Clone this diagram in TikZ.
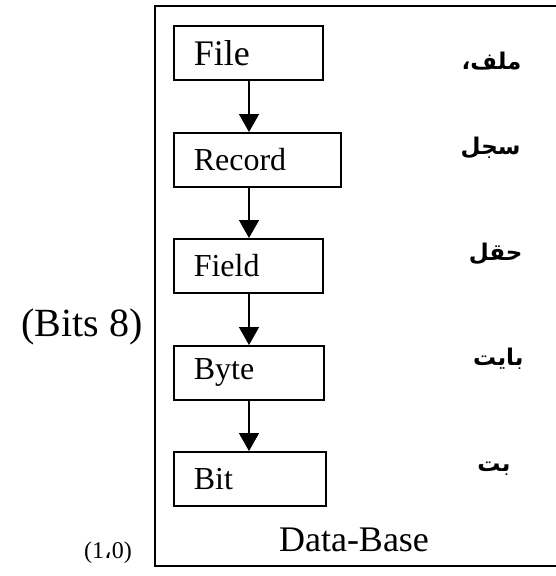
\documentclass[tikz,border=0pt]{standalone}
\usepackage{fontspec}
\setmainfont{Liberation Serif}
\newfontfamily\arabicfont[Script=Arabic]{DejaVu Sans}
\TeXXeTstate=1
\usetikzlibrary{arrows.meta}

\begin{document}
\begin{tikzpicture}[x=1pt,y=-1pt,>={Triangle[width=20pt,length=18pt]},
  box/.style={draw,line width=1.6pt,anchor=north west,inner xsep=20pt,inner ysep=0pt,align=left,minimum height=54pt,font=\fontsize{32}{36}\selectfont},
  ar/.style={anchor=east,font=\arabicfont\bfseries\fontsize{23}{26}\selectfont}]
\useasboundingbox (0,0) rectangle (556,576);
\draw[line width=1.6pt] (556,6)--(155,6)--(155,566)--(556,566);
\node[box,text width=109pt,font=\fontsize{36}{40}\selectfont] (file) at (173,25) {File};
\node[box,text width=127pt] (rec) at (173,132) {Record};
\node[box,text width=109pt] (fld) at (173,238) {Field};
\node[box,text width=110pt] (byt) at (173,345) {Byte};
\node[box,text width=112pt] (bit) at (173,451) {Bit};
\coordinate (ax) at (249,0);
\foreach \a/\b in {file/rec,rec/fld,fld/byt,byt/bit} \draw[->,line width=1.6pt] (\a.south -| ax) -- (\b.north -| ax);
\node[ar] (lfile) at (525,61) {\beginR ملف،\endR};
\node[ar] (lrec) at (524,148) {\beginR سجل\endR};
\node[ar] (lfld) at (526,254) {\beginR حقل\endR};
\node[ar] (lbyt) at (527,359) {\beginR بايت\endR};
\node[ar] (lbit) at (514,469) {\beginR بت\endR};
\node[font=\fontsize{36}{40}\selectfont] (db) at (354,540) {Data-Base};
\node[font=\fontsize{40}{44}\selectfont] (bits) at (82,327) {(Bits 8)};
\node[font=\fontsize{24}{28}\selectfont] (zo) at (108,553) {(1{\arabicfont ،}0)};
\end{tikzpicture}
\end{document}
